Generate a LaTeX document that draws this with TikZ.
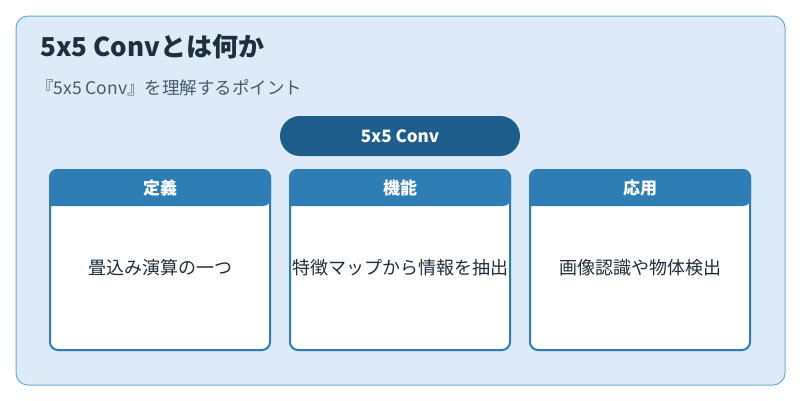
\documentclass[tikz,border=0pt]{standalone}
\usepackage{fontspec}
\setmainfont{Noto Sans CJK JP}
\definecolor{bgc}{HTML}{DCEBF7}
\definecolor{bdc}{HTML}{6AAAD3}
\definecolor{ttl}{HTML}{1E2F3E}
\definecolor{sub}{HTML}{4A5A6A}
\definecolor{pill}{HTML}{1F5E8C}
\definecolor{hdr}{HTML}{2E7DB5}
\begin{document}
\begin{tikzpicture}[x=1pt,y=-1pt,
  htext/.style={text=white,font=\bfseries\fontsize{17}{20}\selectfont},
  btext/.style={text=ttl,font=\fontsize{18}{21}\selectfont}]
\useasboundingbox (0,0) rectangle (800,400);
\draw[fill=bgc,draw=bdc,line width=1pt,rounded corners=12pt] (16,16) rectangle (785,385);
\node[anchor=west,text=ttl,font=\bfseries\fontsize{26}{30}\selectfont,inner sep=0pt] (title) at (40,47) {5x5 Convとは何か};
\node[anchor=west,text=sub,font=\fontsize{17.5}{20}\selectfont,inner sep=0pt] (subt) at (36,88) {『5x5 Conv』を理解するポイント};
\node[fill=pill,rounded corners=20pt,minimum width=240pt,minimum height=40pt,htext] (p) at (400,136) {5x5 Conv};
\foreach \x/\h/\b/\n in {50/定義/畳込み演算の一つ/a,290/機能/特徴マップから情報を抽出/b,530/応用/画像認識や物体検出/c}{
  \draw[fill=white,draw=hdr,line width=2pt,rounded corners=8pt] (\x,170) rectangle (\x+220,350);
  \fill[hdr,rounded corners=8pt] (\x-1,206) -- (\x-1,169) -- (\x+221,169) -- (\x+221,206) [sharp corners] -- cycle;
  \node[htext] (h\n) at (\x+110,188) {\h};
  \node[btext] (b\n) at (\x+110,268) {\b};
}
\end{tikzpicture}
\end{document}
